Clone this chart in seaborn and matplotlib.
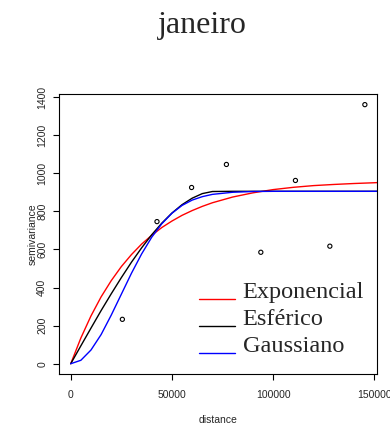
import numpy as np
import pandas as pd
import seaborn as sns
import matplotlib.pyplot as plt
from matplotlib.legend_handler import HandlerLine2D

lag = [25500, 42600, 59700, 76900, 93900, 111000, 128000, 145300]
semiv = [233, 746, 925, 1046, 585, 962, 617, 1360]

# fitted model curves, sampled along distance
dist = [0, 5000, 10000, 15000, 20000, 25000, 30000, 35000, 40000, 45000,
        50000, 55000, 60000, 65000, 70000, 80000, 90000, 100000, 110000,
        120000, 130000, 140000, 150000, 152000]
exponencial = [0, 135, 251, 351, 436, 510, 573, 628, 674, 715, 749, 779, 804,
               826, 845, 875, 897, 914, 926, 935, 941, 946, 950, 951]
esferico = [0, 94, 187, 279, 367, 452, 533, 608, 677, 738, 791, 835, 869,
            893, 904, 905, 905, 905, 905, 905, 905, 905, 905, 905]
gaussiano = [0, 18, 72, 153, 255, 365, 475, 576, 664, 735, 790, 831, 859,
             877, 889, 900, 904, 905, 905, 905, 905, 905, 905, 905]

xticks = [0, 50000, 100000, 150000]
yticks = [0, 200, 400, 600, 800, 1000, 1200, 1400]


class LowLine(HandlerLine2D):
    # R puts the legend segment near the text baseline
    def create_artists(self, legend, orig_handle, xdescent, ydescent,
                       width, height, fontsize, trans):
        arts = super().create_artists(legend, orig_handle, xdescent, ydescent,
                                      width, height, fontsize, trans)
        for a in arts:
            a.set_ydata(np.asarray(a.get_ydata()) - 0.4 * fontsize)
        return arts


sns.set_theme(style="white")
plt.rcParams['font.family'] = ['Liberation Sans', 'DejaVu Sans']

fig = plt.figure(figsize=(3.9, 4.25), dpi=100)
ax = fig.add_axes([0.1513, 0.12, 0.8154, 0.658])

sns.lineplot(x=dist, y=exponencial, color='red', lw=1, ax=ax, label='Exponencial')
sns.lineplot(x=dist, y=esferico, color='black', lw=1, ax=ax, label='Esférico')
sns.lineplot(x=dist, y=gaussiano, color='blue', lw=1, ax=ax, label='Gaussiano')
sns.scatterplot(x=lag, y=semiv, ax=ax, marker='o', s=9, facecolor='none',
                edgecolor='black', linewidth=0.8)

ax.set_xlim(-5800, 151300)
ax.set_ylim(-54, 1414)
ax.set_xticks(xticks)
ax.set_xticklabels([str(t) for t in xticks])
ax.set_yticks(yticks)
ax.set_yticklabels([str(t) for t in yticks], rotation=90, va='center')
ax.tick_params(axis='both', direction='out', length=4.5, width=0.8,
               labelsize=7.5, color='black', bottom=True, left=True)
ax.tick_params(axis='x', pad=7)
ax.tick_params(axis='y', pad=4)
for s in ax.spines.values():
    s.set_color('black')
    s.set_linewidth(0.8)

ax.set_xlabel('distance', fontsize=7.5, labelpad=11)
ax.set_ylabel('semivariance', fontsize=7.5, labelpad=-0.5)

h, l = ax.get_legend_handles_labels()
ax.legend(h, l, loc='lower right', bbox_to_anchor=(1.013, 0.0), frameon=False,
          prop={'family': 'Liberation Serif', 'size': 17.5},
          handlelength=1.5, handletextpad=0.3, labelspacing=0.2,
          borderaxespad=0.3, handler_map={type(h[0]): LowLine()})

fig.text(0.52, 1 - 26 / 425, 'janeiro', ha='center', va='center',
         family='Liberation Serif', fontsize=23)

fig.savefig('out.png', dpi=100)
